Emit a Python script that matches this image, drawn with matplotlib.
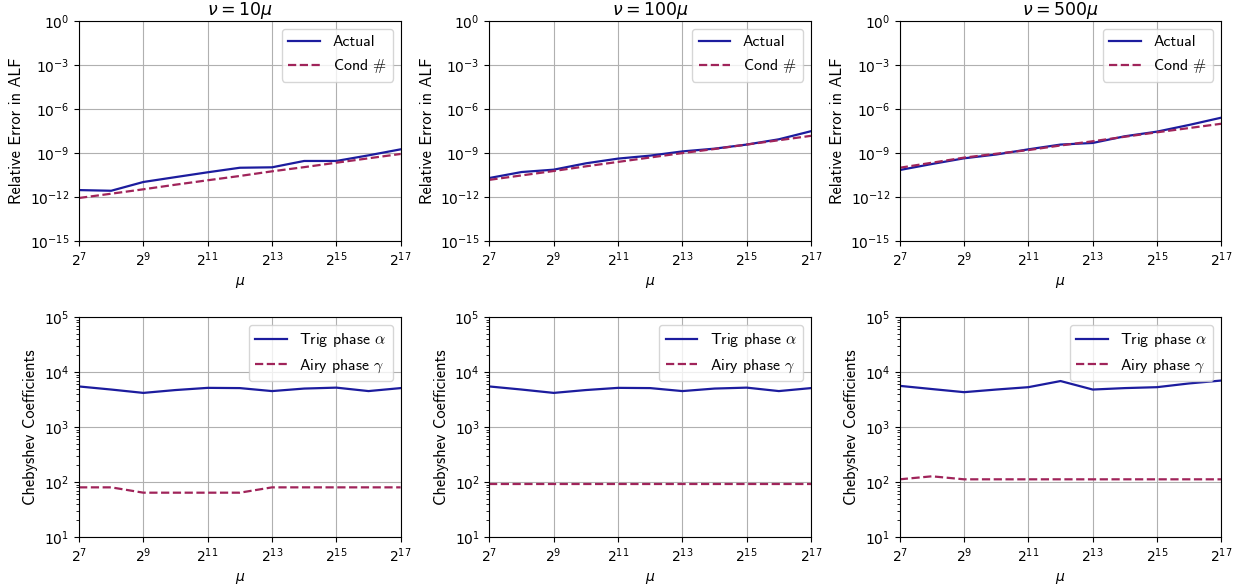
import matplotlib
matplotlib.use("Agg")
import matplotlib.pyplot as plt
from matplotlib.ticker import NullLocator, LogFormatterSciNotation

mu = [2**k for k in range(7, 18)]

titles = [r"$\nu = 10\mu$", r"$\nu = 100\mu$", r"$\nu = 500\mu$"]

actual_10 = [3.0e-12, 2.7e-12, 1.07e-11, 2.3e-11, 4.9e-11, 1.0e-10, 1.07e-10, 2.9e-10, 2.9e-10, 7.0e-10, 1.8e-9]
cond_10 = [8.7e-13, 1.7e-12, 3.4e-12, 7.0e-12, 1.4e-11, 2.75e-11, 5.7e-11, 1.1e-10, 2.2e-10, 4.4e-10, 8.7e-10]

actual_100 = [2.0e-11, 5.1e-11, 7.4e-11, 2.0e-10, 4.2e-10, 6.7e-10, 1.3e-9, 2.0e-9, 3.8e-9, 8.7e-9, 3.1e-8]
cond_100 = [1.5e-11, 3.0e-11, 6.0e-11, 1.25e-10, 2.5e-10, 5.0e-10, 1.0e-9, 1.9e-9, 3.8e-9, 7.5e-9, 1.5e-8]

actual_500 = [7.0e-11, 1.8e-10, 4.4e-10, 8.0e-10, 1.8e-9, 3.8e-9, 4.9e-9, 1.4e-8, 2.9e-8, 8.3e-8, 2.6e-7]
cond_500 = [1.0e-10, 2.2e-10, 4.9e-10, 9.0e-10, 1.6e-9, 3.3e-9, 6.4e-9, 1.3e-8, 2.6e-8, 5.1e-8, 1.0e-7]

trig_10 = [5460, 4800, 4170, 4700, 5150, 5100, 4500, 5000, 5200, 4500, 5100]
airy_10 = [80, 80, 64, 64, 64, 64, 80, 80, 80, 80, 80]

trig_100 = [5460, 4800, 4170, 4700, 5150, 5100, 4500, 5000, 5200, 4500, 5100]
airy_100 = [94, 94, 94, 94, 94, 94, 94, 94, 94, 94, 94]

trig_500 = [5600, 4900, 4300, 4800, 5300, 6850, 4800, 5100, 5300, 6200, 7000]
airy_500 = [112, 127, 112, 112, 112, 112, 112, 112, 112, 112, 112]

err_actual = [actual_10, actual_100, actual_500]
err_cond = [cond_10, cond_100, cond_500]
coef_trig = [trig_10, trig_100, trig_500]
coef_airy = [airy_10, airy_100, airy_500]

xticks = [2**7, 2**9, 2**11, 2**13, 2**15, 2**17]
err_yticks = [1e0, 1e-3, 1e-6, 1e-9, 1e-12, 1e-15]

BLUE = "#1c1c9e"
RED = "#a0245a"
SF = "cmss10"

fig, axes = plt.subplots(2, 3, figsize=(12.45, 5.85), dpi=100)
fig.subplots_adjust(left=0.0635, right=0.981, top=0.964, bottom=0.082,
                    wspace=0.276, hspace=0.345)

def style_x(ax):
    ax.set_xscale("log", base=2)
    ax.set_xlim(2**7, 2**17)
    ax.set_xticks(xticks)
    ax.xaxis.set_major_formatter(LogFormatterSciNotation(base=2))
    ax.xaxis.set_minor_locator(NullLocator())
    ax.set_xlabel(r"$\mu$", fontsize=10)
    ax.tick_params(labelsize=10)
    ax.grid(True, color="#b0b0b0", linewidth=0.8)

for j in range(3):
    ax = axes[0, j]
    ax.plot(mu, err_actual[j], color=BLUE, lw=1.6, label="Actual")
    ax.plot(mu, err_cond[j], color=RED, lw=1.6, ls="--", label=r"Cond $\#$")
    ax.set_yscale("log")
    ax.set_ylim(1e-15, 1e0)
    ax.set_yticks(err_yticks)
    ax.yaxis.set_minor_locator(NullLocator())
    style_x(ax)
    ax.set_ylabel("Relative Error in ALF", fontfamily=SF, fontsize=11.8)
    ax.set_title(titles[j], fontsize=12.5, pad=4)
    leg = ax.legend(loc="upper right", prop={"family": SF, "size": 11.4})
    for t in leg.get_texts():
        t.set_math_fontfamily("cm")

    ax = axes[1, j]
    ax.plot(mu, coef_trig[j], color=BLUE, lw=1.6, label=r"Trig phase $\alpha$")
    ax.plot(mu, coef_airy[j], color=RED, lw=1.6, ls="--", label=r"Airy phase $\gamma$")
    ax.set_yscale("log")
    ax.set_ylim(1e1, 1e5)
    style_x(ax)
    ax.set_ylabel("Chebyshev Coefficients", fontfamily=SF, fontsize=11.8)
    leg = ax.legend(loc="upper right", prop={"family": SF, "size": 11.4})
    for t in leg.get_texts():
        t.set_math_fontfamily("cm")

fig.savefig("out.png", dpi=100)
